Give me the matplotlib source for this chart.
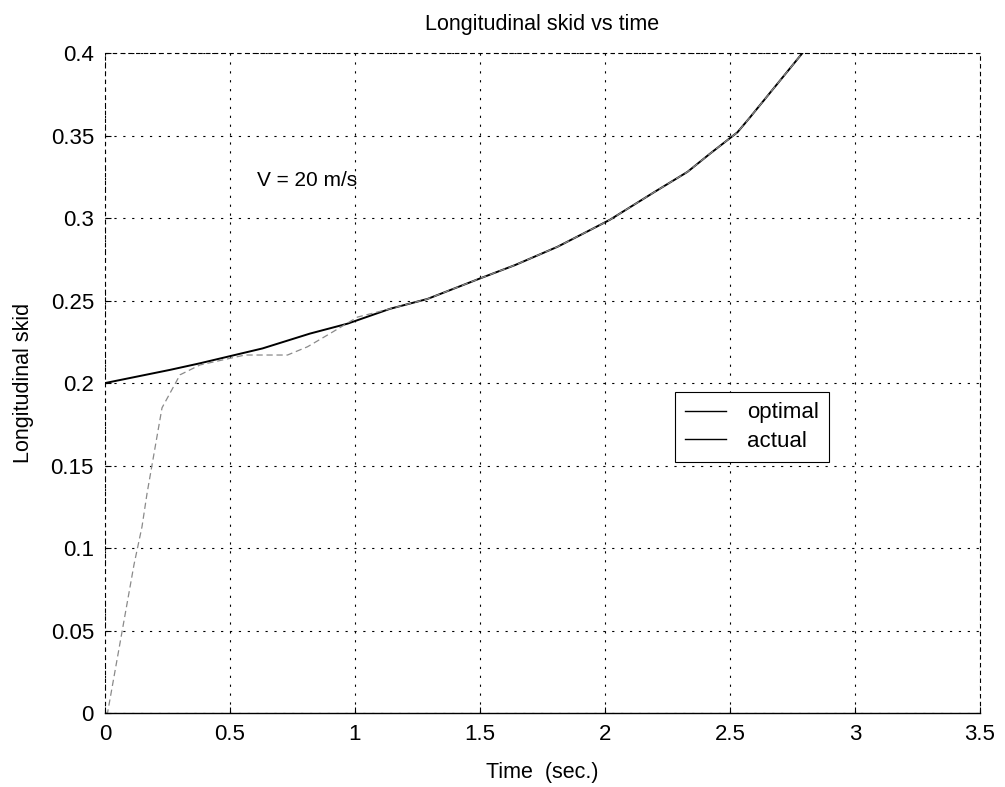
import matplotlib.pyplot as plt
import numpy as np

plt.rcParams['font.family'] = ['Liberation Sans', 'DejaVu Sans']

# optimal skid trajectory
t_opt = [0.0, 0.26, 0.38, 0.63, 0.82, 0.97, 1.14, 1.29, 1.51, 1.64, 1.81,
         1.94, 2.02, 2.20, 2.33, 2.42, 2.53, 2.58, 2.79, 2.85]
s_opt = [0.200, 0.208, 0.212, 0.221, 0.230, 0.236, 0.245, 0.251, 0.264, 0.2715,
         0.2826, 0.2927, 0.299, 0.316, 0.328, 0.339, 0.352, 0.361, 0.400, 0.412]

# actual skid: rises from zero, then follows the optimal one
t_act = [0.0, 0.01, 0.096, 0.116, 0.148, 0.168, 0.228, 0.30, 0.38, 0.56, 0.73,
         0.81, 0.90, 1.01, 1.14, 1.29, 1.51, 1.64, 1.81, 1.94, 2.02, 2.20, 2.33,
         2.42, 2.53, 2.58, 2.79, 2.85]
s_act = [0.0, 0.0, 0.073, 0.090, 0.113, 0.133, 0.185, 0.205, 0.211, 0.217, 0.217,
         0.222, 0.230, 0.240, 0.245, 0.251, 0.264, 0.2715, 0.2826, 0.2927, 0.299,
         0.316, 0.328, 0.339, 0.352, 0.361, 0.400, 0.412]

x_ticks = [0, 0.5, 1, 1.5, 2, 2.5, 3, 3.5]
x_labels = ['0', '0.5', '1', '1.5', '2', '2.5', '3', '3.5']
y_ticks = [0, 0.05, 0.1, 0.15, 0.2, 0.25, 0.3, 0.35, 0.4]
y_labels = ['0', '0.05', '0.1', '0.15', '0.2', '0.25', '0.3', '0.35', '0.4']

fig = plt.figure(figsize=(10.05, 7.87), dpi=100)
ax = fig.add_axes([0.1045, 0.094, 0.8705, 0.8385])

ax.plot(t_opt, s_opt, color='black', lw=1.4, label='optimal')
ax.plot(t_act, s_act, color='#8a8a8a', lw=0.9, ls=(0, (5, 3)), label='actual')

ax.set_xlim(0, 3.5)
ax.set_ylim(0, 0.4)
ax.set_xticks(x_ticks)
ax.set_xticklabels(x_labels)
ax.set_yticks(y_ticks)
ax.set_yticklabels(y_labels)
ax.tick_params(direction='in', length=4, labelsize=16, pad=8)

ax.grid(True, color='black', ls=(0, (2, 6)), lw=0.8)

for side in ['top', 'left', 'right']:
    ax.spines[side].set_linestyle((0, (3, 4)))
    ax.spines[side].set_linewidth(0.8)
ax.spines['bottom'].set_linewidth(1.0)

ax.set_title('Longitudinal skid vs time', fontsize=15.5, pad=17)
ax.set_xlabel('Time  (sec.)', fontsize=15.5, labelpad=12)
ax.set_ylabel('Longitudinal skid', fontsize=15.5, labelpad=12)

ax.text(0.61, 0.323, 'V = 20 m/s', fontsize=15, va='center', ha='left')

leg = ax.legend(loc='upper left', bbox_to_anchor=(0.651, 0.486), fontsize=16,
                handlelength=1.85, handletextpad=0.95, borderpad=0.45,
                labelspacing=0.35, borderaxespad=0,
                fancybox=False, framealpha=1, edgecolor='black')
leg.get_frame().set_linewidth(0.8)
for h in leg.get_lines():
    h.set_color('black')
    h.set_linestyle('-')
    h.set_linewidth(1.0)

fig.savefig('out.png', dpi=100)
